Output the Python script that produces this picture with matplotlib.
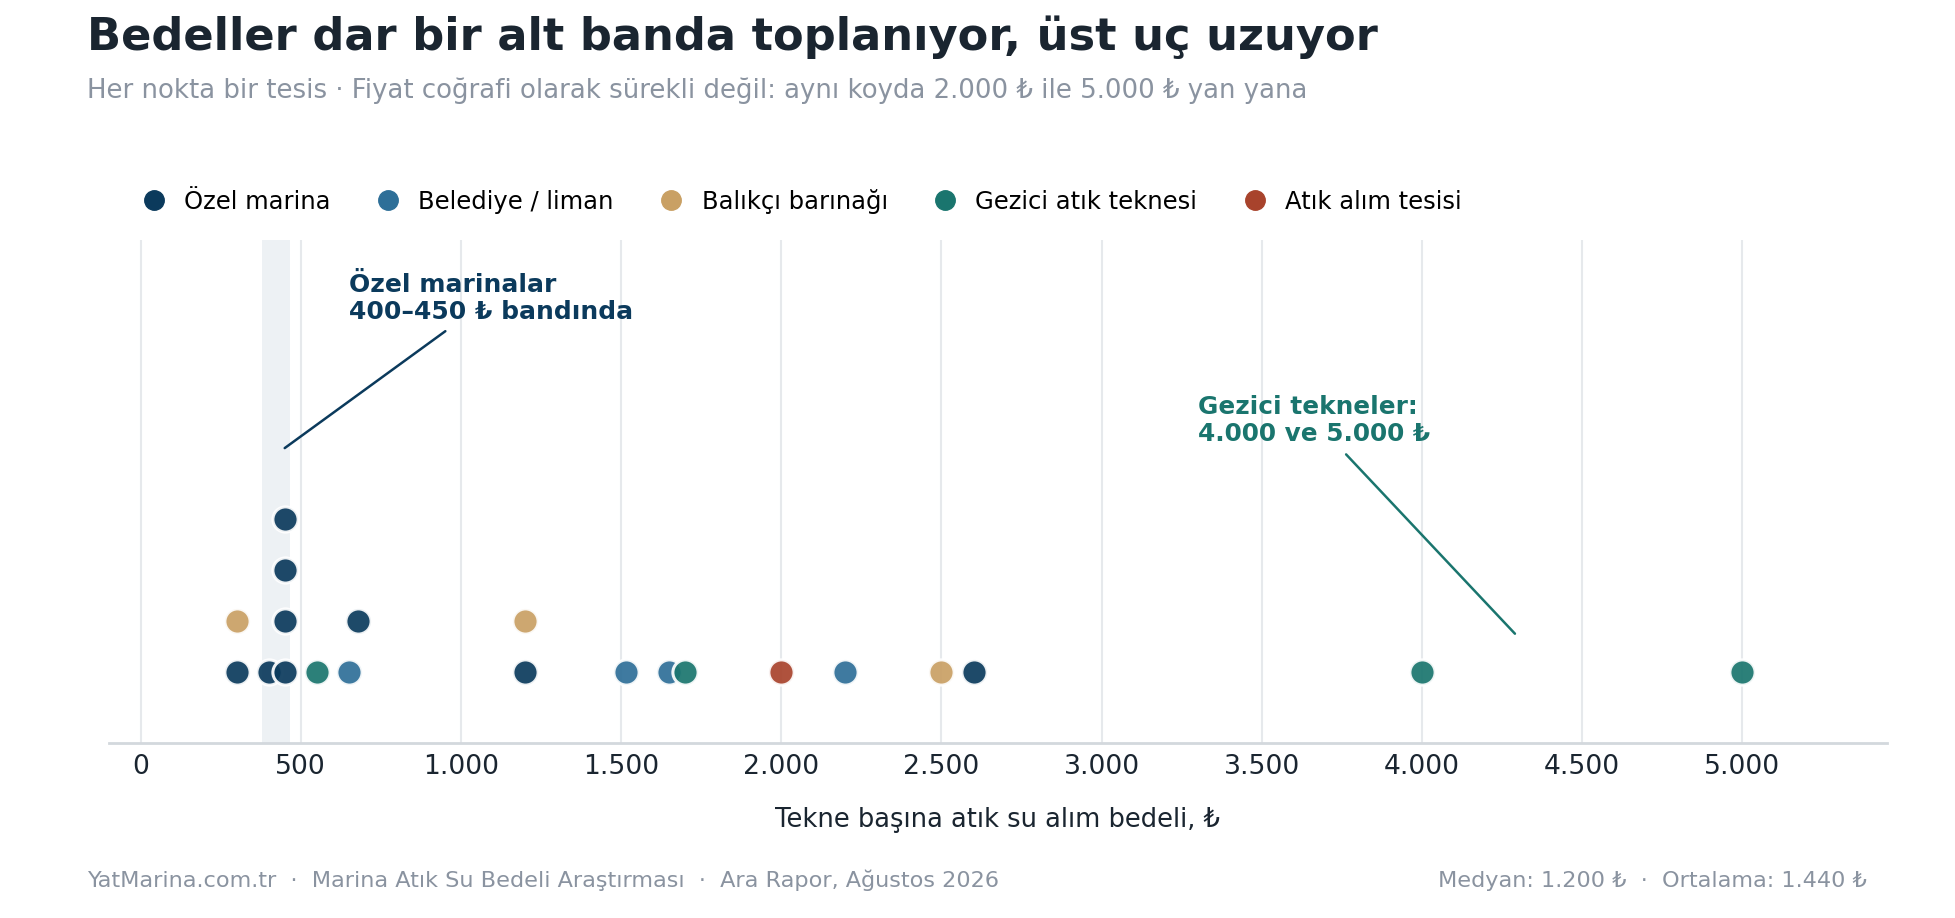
import matplotlib
matplotlib.use("Agg")
import matplotlib.pyplot as plt
from matplotlib.lines import Line2D
from matplotlib.ticker import FuncFormatter, MultipleLocator
import numpy as np

# data: waste water fee per boat (TL), one value per facility
categories = ["Özel marina", "Belediye / liman", "Balıkçı barınağı",
              "Gezici atık teknesi", "Atık alım tesisi"]
ozel_marina = [300, 400, 450, 450, 450, 450, 680, 1200, 2600]
belediye = [650, 1515, 1650, 2200]
balikci = [300, 1200, 2500]
gezici = [550, 1700, 4000, 5000]
atik_alim = [2000]
band = (378, 468)

colors = ["#0b3a5c", "#2e6f98", "#c9a064", "#1a756e", "#a8432c"]
series = [ozel_marina, belediye, balikci, gezici, atik_alim]

# stack points that fall in the same bin (dot plot)
pts = []
for ci, vals in enumerate(series):
    for v in vals:
        pts.append((v, ci))
pts.sort()
counts = {}
levels = []
for v, ci in pts:
    b = int(round(v / 75))
    levels.append(counts.get(b, 0))
    counts[b] = counts.get(b, 0) + 1

fig = plt.figure(figsize=(19.55, 9.18), dpi=100)
ax = fig.add_axes([0.0555, 0.1906, 0.9095, 0.5484])

ax.axvspan(band[0], band[1], color="#edf1f4", zorder=0, lw=0)

for ci in range(len(categories)):
    xs = [p[0] for p, l in zip(pts, levels) if p[1] == ci]
    ys = [l for p, l in zip(pts, levels) if p[1] == ci]
    ax.scatter(xs, ys, s=330, color=colors[ci], alpha=0.92,
               edgecolor="white", linewidth=2.2, zorder=3)

ax.set_xlim(-100, 5450)
ax.set_ylim(-1.4, 8.5)
ax.xaxis.set_major_locator(MultipleLocator(500))
ax.xaxis.set_major_formatter(FuncFormatter(lambda v, p: f"{int(v):,}".replace(",", ".")))
ax.grid(axis="x", color="#e6e9ec", linewidth=1.5, zorder=1)
ax.set_axisbelow(True)
ax.set_yticks([])
for s in ["left", "right", "top"]:
    ax.spines[s].set_visible(False)
ax.spines["bottom"].set_color("#d3d8dd")
ax.spines["bottom"].set_linewidth(2)
ax.tick_params(axis="x", length=0, labelsize=19.2, labelcolor="#1a2530", pad=8)
ax.set_xlabel("Tekne başına atık su alım bedeli, ₺", fontsize=18.5,
              color="#1a2530", labelpad=19)

ax.annotate("Özel marinalar\n400–450 ₺ bandında", xy=(450, 4.4), xytext=(650, 7.85),
            ha="left", va="top", fontsize=18, fontweight="bold", color="#0b3a5c",
            linespacing=1.15,
            arrowprops=dict(arrowstyle="-", color="#0b3a5c", lw=1.8, shrinkA=6, shrinkB=0))
ax.annotate("Gezici tekneler:\n4.000 ve 5.000 ₺", xy=(4290, 0.75), xytext=(3300, 5.45),
            ha="left", va="top", fontsize=17.8, fontweight="bold", color="#1a756e",
            linespacing=1.15,
            arrowprops=dict(arrowstyle="-", color="#1a756e", lw=1.8, shrinkA=6, shrinkB=0))

handles = [Line2D([], [], marker="o", linestyle="none", markersize=14,
                  markerfacecolor=c, markeredgecolor=c) for c in colors]
fig.legend(handles, categories, loc="center left", bbox_to_anchor=(0.0675, 0.781),
           ncol=5, frameon=False, fontsize=17.5, handletextpad=0.75,
           columnspacing=1.86, handlelength=1.0, borderaxespad=0)

fig.text(0.0446, 0.946, "Bedeller dar bir alt banda toplanıyor, üst uç uzuyor",
         fontsize=32.2, fontweight="bold", color="#1a2530", va="baseline")
fig.text(0.0446, 0.893,
         "Her nokta bir tesis · Fiyat coğrafi olarak sürekli değil: aynı koyda 2.000 ₺ ile 5.000 ₺ yan yana",
         fontsize=18.75, color="#8a93a0", va="baseline")
fig.text(0.0446, 0.034,
         "YatMarina.com.tr  ·  Marina Atık Su Bedeli Araştırması  ·  Ara Rapor, Ağustos 2026",
         fontsize=16.1, color="#8a93a0", va="baseline")
fig.text(0.955, 0.034, "Medyan: 1.200 ₺  ·  Ortalama: 1.440 ₺",
         fontsize=16.1, color="#8a93a0", va="baseline", ha="right")

fig.savefig("out.png", dpi=100, facecolor="white")
